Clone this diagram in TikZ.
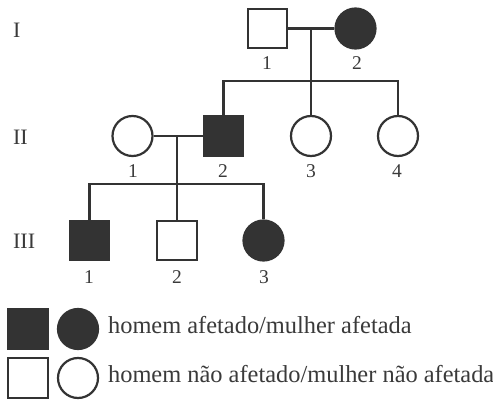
\documentclass[tikz,border=0pt]{standalone}
\usepackage{fontspec}
\setmainfont{Liberation Serif}
\definecolor{ink}{HTML}{333333}
\definecolor{txt}{HTML}{3A3A3A}
\begin{document}
\begin{tikzpicture}[x=1pt,y=-1pt,line width=2.2pt,
  male/.style={draw=ink,rectangle,minimum size=39.5pt,inner sep=0pt,fill=white},
  female/.style={draw=ink,circle,minimum size=40pt,inner sep=0pt,fill=white},
  aff/.style={fill=ink},
  conn/.style={draw=ink,line width=2.2pt},
  num/.style={text=txt,font=\fontsize{19.5}{19.5}\selectfont,inner sep=0pt},
  gen/.style={text=txt,font=\fontsize{22}{22}\selectfont,inner sep=0pt,anchor=west},
  legtxt/.style={text=txt,font=\fontsize{24.4}{24.4}\selectfont,inner sep=0pt,anchor=base west}]
\useasboundingbox (0,0) rectangle (493,401);
\fill[white] (0,0) rectangle (493,401);
% generation labels
\node[gen] (gI) at (12,30.5) {I};
\node[gen] (gII) at (12,137) {II};
\node[gen] (gIII) at (12,241) {III};
% generation I
\node[male] (I1) at (267.5,28.5) {};
\node[female,aff] (I2) at (355.5,28.5) {};
\coordinate (mI) at (311,28.5);
\coordinate (jI) at (311,81);
% generation II
\node[female] (II1) at (132.5,136) {};
\node[male,aff] (II2) at (223.5,136) {};
\node[female] (II3) at (311,136) {};
\node[female] (II4) at (398,136) {};
\coordinate (mII) at (177,136);
\coordinate (jII) at (177,184);
% generation III
\node[male,aff] (III1) at (89.5,240.5) {};
\node[male] (III2) at (177,240.5) {};
\node[female,aff] (III3) at (263.5,240.5) {};
% connectors
\draw[conn] (I1.east) -- (I2.west);
\draw[conn] (mI) -- (jI) -- (II3.north);
\draw[conn] (jI) -| (II2.north);
\draw[conn] (jI) -| (II4.north);
\draw[conn] (II1.east) -- (II2.west);
\draw[conn] (mII) -- (jII) -- (III2.north);
\draw[conn] (jII) -| (III1.north);
\draw[conn] (jII) -| (III3.north);
% numbers
\node[num] (nI1) at (267,63) {1};
\node[num] (nI2) at (357,63) {2};
\node[num] (nII1) at (133,171) {1};
\node[num] (nII2) at (223,171) {2};
\node[num] (nII3) at (311,171) {3};
\node[num] (nII4) at (397,171) {4};
\node[num] (nIII1) at (89,277) {1};
\node[num] (nIII2) at (177,277) {2};
\node[num] (nIII3) at (264,277) {3};
% legend
\node[male,aff] (LA) at (28,329) {};
\node[female,aff] (LB) at (78,329) {};
\node[male] (LC) at (28,378) {};
\node[female] (LD) at (78,378) {};
\node[legtxt] (LT1) at (107,333) {homem afetado/mulher afetada};
\node[legtxt] (LT2) at (107,382) {homem não afetado/mulher não afetada};
\end{tikzpicture}
\end{document}
